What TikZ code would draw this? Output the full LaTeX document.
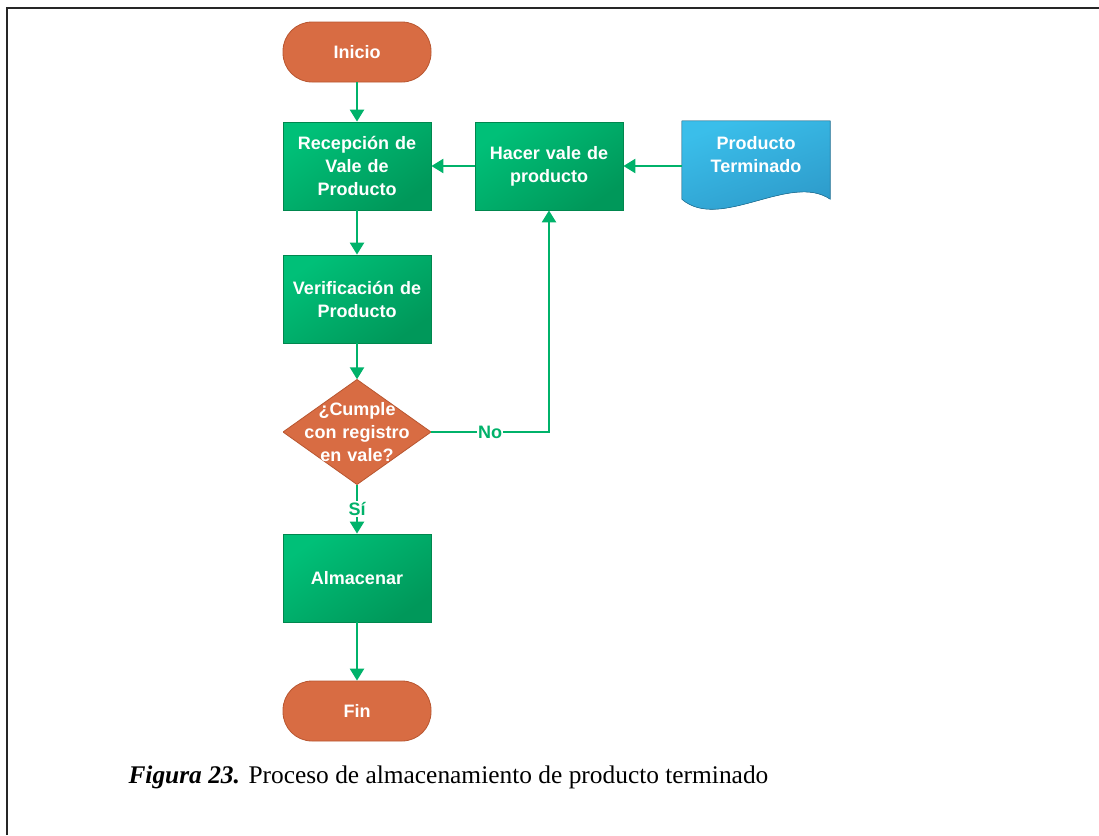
\documentclass[tikz,border=0pt]{standalone}
\usepackage{fontspec}
\setmainfont{Liberation Serif}
\setsansfont{Liberation Sans}
\usetikzlibrary{arrows.meta,backgrounds}

\definecolor{lineg}{RGB}{0,178,106}
\definecolor{boxa}{RGB}{0,192,120}
\definecolor{boxb}{RGB}{0,152,90}
\definecolor{boxedge}{RGB}{0,135,78}
\definecolor{orng}{RGB}{216,108,67}
\definecolor{orngedge}{RGB}{184,86,48}
\definecolor{bluea}{RGB}{58,190,234}
\definecolor{blueb}{RGB}{44,150,198}

\begin{document}
\begin{tikzpicture}[x=1pt,y=-1pt,
    every node/.style={font=\sffamily\bfseries\fontsize{18}{23}\selectfont},
    proc/.style={draw=boxedge,line width=0.8pt,top color=boxa,bottom color=boxb,shading angle=35,
      minimum width=148pt,minimum height=88pt,inner sep=0pt,text width=140pt,align=center,text=white},
    term/.style={draw=orngedge,line width=0.8pt,fill=orng,rounded corners=29pt,
      minimum width=148pt,minimum height=60pt,inner sep=0pt,text=white},
    dec/.style={minimum width=148pt,minimum height=105pt,inner sep=0pt,text width=140pt,align=center,text=white,
      path picture={\fill[orng,draw=orngedge,line width=0.8pt] (path picture bounding box.north) -- (path picture bounding box.east)
        -- (path picture bounding box.south) -- (path picture bounding box.west) -- cycle;}},
    docu/.style={minimum width=148pt,minimum height=68pt,inner sep=0pt,text width=140pt,align=center,text=white},
    flow/.style={draw=lineg,line width=2.4pt,-{Triangle[length=12pt,width=14pt]}},
    lbl/.style={fill=white,text=lineg,inner sep=1pt}]

% frame and size
\useasboundingbox (0,0) rectangle (1099,835);
\draw[line width=2pt,black!85] (7,835) -- (7,8) -- (1099,8);

\node[term] (inicio) at (357,52) {Inicio};
\node[proc] (recep) at (357,166) {Recepción de\\Vale de\\Producto};
\node[proc] (hacer) at (549,166) {Hacer vale de\\producto};
\node[docu] (prod) at (756,155) {Producto\\Terminado};
\node[proc] (verif) at (357,299) {Verificación de\\Producto};
\node[dec] (cumple) at (357,432) {¿Cumple\\con registro\\en vale?};
\node[proc] (almac) at (357,578) {Almacenar};
\node[term] (fin) at (357,711) {Fin};

% document shape behind its text
\begin{pgfonlayer}{background}
\fill[top color=bluea,bottom color=blueb,shading angle=20,draw=blueb!80!black,line width=0.6pt]
  (prod.north west) -- (prod.north east) -- ([yshift=-10pt]prod.south east)
  .. controls (790,172) and (720,232) .. ([yshift=-10pt]prod.south west) -- cycle;
\end{pgfonlayer}

\draw[flow] (inicio) -- (recep);
\draw[flow] (hacer) -- (recep);
\draw[flow] (prod.west |- hacer.east) -- (hacer.east);
\draw[flow] (recep) -- (verif);
\draw[flow] (verif) -- (cumple);
\draw[flow] (cumple.east) -| node[lbl,pos=0.25] {No} (hacer.south);
\draw[flow] (cumple) -- node[lbl,pos=0.5] {Sí} (almac);
\draw[flow] (almac) -- (fin);

\node[anchor=base west,font=\rmfamily\fontsize{25.4}{30}\selectfont] (cap) at (125,783)
  {\textbf{\textit{Figura 23.}} Proceso de almacenamiento de producto terminado};
\end{tikzpicture}
\end{document}
